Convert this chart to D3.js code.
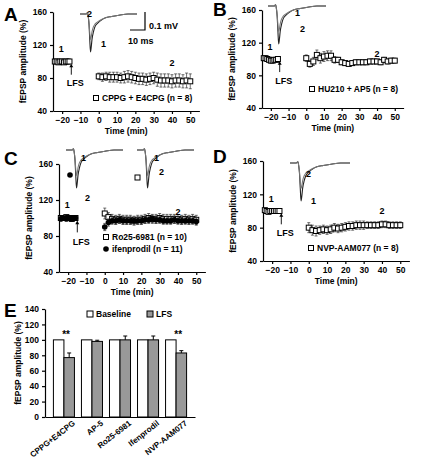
<!DOCTYPE html>
<html><head><meta charset="utf-8">
<script src="https://cdn.jsdelivr.net/npm/d3@7"></script>
<style>body{margin:0;background:#fff}text{font-family:"Liberation Sans",Arial,sans-serif;font-weight:bold}</style>
</head><body><svg id="c" width="425" height="461"></svg>
<script>
// ---- data ----
const baseT = [-24,-23,-22,-21,-20,-19,-18,-17,-16];
const postT = [0,2,4,6,8,10,12,14,16,18,20,22,24,26,28,30,32,34,36,38,40,42,44,46,48,50];
const aBase = [100,100,99,100,100,99,100,100,100];
const aPost = [82,81,82,81,81,81,80,81,82,81,80,79,79,78,79,80,78,77,77,77,76,77,77,76,77,76];
const aErr  = [4,5,5,6,6,6,6,7,7,7,7,7,7,7,7,7,8,8,8,8,8,8,8,8,9,9];
const bBase = [101,101,100,99,98,98,99,99,100];
const bPost = [101,94,97,105,101,103,104,104,99,99,96,95,94,95,96,96,96,96,97,97,97,96,99,97,98,98];
const bErr  = [4,4,5,6,6,6,6,6,4,3,3,3,3,3,3,3,3,3,3,3,3,3,3,3,3,3];
const cRoBase = [100,100,100,101,100,100,99,100,100];
const cRoPost = [105,101,99,98,99,98,98,98,97,98,98,99,100,99,99,100,99,99,99,99,99,98,99,98,99,98];
const cRoErr  = [6,5,5,5,5,5,5,5,5,5,5,5,5,5,5,5,5,5,5,5,5,5,5,5,5,5];
const cIfBase = [99,100,100,99,100,100,99,100,100];
const cIfPost = [90,95,97,97,98,97,97,97,97,97,97,98,98,99,98,98,97,97,97,98,97,97,97,97,97,96];
const cIfErr  = [4,4,4,4,4,4,4,4,4,4,4,4,4,4,4,4,4,4,4,4,4,4,4,4,4,4];
const dBase = [101,100,99,100,100,100,100,100,100];
const dPost = [80,77,76,77,78,77,78,80,79,80,81,82,82,83,83,83,83,83,83,83,84,84,83,83,83,83];
const dErr  = [6,6,6,5,5,5,5,5,5,5,5,5,5,5,5,5,4,4,4,4,4,4,4,4,4,4];
const xTicks = [-20,-10,0,10,20,30,40,50];
const yTicks = [40,80,120,160];
// inset fEPSP traces (ms, mV)
const trT  = [0,4,5,5.5,6,6.5,7,7.5,8,9,10,12,14,17,21,26,32,38];
const tr1  = [0,0,0.01,-0.02,-0.08,-0.2,-0.3,-0.26,-0.2,-0.14,-0.1,-0.07,-0.05,-0.03,-0.02,-0.01,0,0];
const tr2  = [0,0,0.01,-0.02,-0.07,-0.15,-0.2,-0.18,-0.14,-0.1,-0.08,-0.06,-0.045,-0.03,-0.02,-0.01,0,0];
// panel E
const groups = ["CPPG+E4CPG","AP-5","Ro25-6981","Ifenprodil","NVP-AAM077"];
const eBaseline = [100,100,100,100,100];
const eLFS = [77,98,100,100,83];
const eLFSErr = [6,1.5,5,5,3];
const eTicks = [0,20,40,60,80,100,120,140];

const svg = d3.select("#c");
function letter(x,y,t){svg.append("text").attr("x",x).attr("y",y).attr("font-size",19).text(t);}
function txt(x,y,t,fs,anchor){return svg.append("text").attr("x",x).attr("y",y).attr("font-size",fs||9).attr("text-anchor",anchor||"start").text(t);}

function trace(x0,y0,w,h){
  const tx=d3.scaleLinear().domain([0,38]).range([x0,x0+w]);
  const ty=d3.scaleLinear().domain([0,-0.3]).range([y0,y0+h]);
  const line=d3.line().x((d,i)=>tx(trT[i])).y(d=>ty(d)).curve(d3.curveMonotoneX);
  svg.append("path").attr("d",line(tr1)).attr("fill","none").attr("stroke","#222").attr("stroke-width",1.1);
  svg.append("path").attr("d",line(tr2)).attr("fill","none").attr("stroke","#777").attr("stroke-width",1.1);
}

function panel(o){
  const x=d3.scaleLinear().domain([-25,55]).range([o.x0,o.x0+80*o.k]);
  const y=d3.scaleLinear().domain([40,160]).range([o.yb,o.yt]);
  const g=svg.append("g");
  g.append("g").attr("transform",`translate(0,${o.yb})`).call(d3.axisBottom(x).tickValues(xTicks).tickSize(3).tickSizeOuter(0))
   .call(a=>a.selectAll("text").attr("font-size",8.5).attr("font-weight","bold"));
  g.append("g").attr("transform",`translate(${o.x0},0)`).call(d3.axisLeft(y).tickValues(yTicks).tickSize(3).tickSizeOuter(0))
   .call(a=>a.selectAll("text").attr("font-size",8.5).attr("font-weight","bold"));
  g.selectAll(".domain,.tick line").attr("stroke","#000").attr("stroke-width",1.2);
  txt((o.x0+x.range()[1])/2,o.yb+23,"Time (min)",8.5,"middle");
  svg.append("text").attr("transform",`translate(${o.x0-27},${(o.yt+o.yb)/2}) rotate(-90)`).attr("font-size",8.5).attr("text-anchor","middle").text("fEPSP amplitude (%)");
  o.series.forEach(s=>{
    const ptsB=baseT.map((t,i)=>[t,s.base[i]]), ptsP=postT.map((t,i)=>[t,s.post[i],s.err[i]]);
    ptsP.forEach(p=>{
      const cx=x(p[0]);
      g.append("line").attr("x1",cx).attr("x2",cx).attr("y1",y(p[1]+p[2])).attr("y2",y(p[1]-p[2])).attr("stroke","#333").attr("stroke-width",0.7);
      [p[1]+p[2],p[1]-p[2]].forEach(v=>g.append("line").attr("x1",cx-1.5).attr("x2",cx+1.5).attr("y1",y(v)).attr("y2",y(v)).attr("stroke","#333").attr("stroke-width",0.7));
    });
    ptsB.concat(ptsP).forEach(p=>{
      if(s.shape==="circle") g.append("circle").attr("cx",x(p[0])).attr("cy",y(p[1])).attr("r",2.8).attr("fill","#000");
      else g.append("rect").attr("x",x(p[0])-2.5).attr("y",y(p[1])-2.5).attr("width",5).attr("height",5).attr("fill",s.fill||"#fff").attr("stroke","#000").attr("stroke-width",1);
    });
  });
  txt(x(-20.5),y(o.l1||111),"1",9,"middle");
  txt(x(40),y(o.l2||103),"2",9,"middle");
  const ax=x(-15);
  g.append("line").attr("x1",ax).attr("x2",ax).attr("y1",y(84)).attr("y2",y(96)).attr("stroke","#000").attr("stroke-width",0.9);
  g.append("path").attr("d",`M${ax-2},${y(93)}L${ax},${y(97)}L${ax+2},${y(93)}Z`).attr("fill","#000");
  txt(ax+4,y(70),"LFS",9,"middle");
  o.legend.forEach((l,i)=>{
    const ly=o.ly+i*12;
    if(l.shape==="circle") svg.append("circle").attr("cx",o.lx).attr("cy",ly-3).attr("r",2.8).attr("fill","#000");
    else svg.append("rect").attr("x",o.lx-2.5).attr("y",ly-5.5).attr("width",5).attr("height",5).attr("fill",l.fill||"#fff").attr("stroke","#000");
    txt(o.lx+6,ly,l.t,8.5);
  });
}

// A
letter(4,21,"A");
panel({x0:53,k:1.83,yt:12,yb:111,series:[{base:aBase,post:aPost,err:aErr}],lx:96,ly:101,legend:[{t:"CPPG + E4CPG (n = 8)"}],l2:95});
trace(80,14,57,38);
txt(87,17,"2",9); txt(101,47,"1",9);
svg.append("path").attr("d","M145,12V30H130").attr("fill","none").attr("stroke","#000").attr("stroke-width",1.2);
txt(149,29,"0.1 mV",9); txt(128,44,"10 ms",9);

// B
letter(213,16,"B");
panel({x0:262,k:1.77,yt:10,yb:108,series:[{base:bBase,post:bPost,err:bErr}],lx:312,ly:92,legend:[{t:"HU210 + AP5 (n = 8)"}]});
trace(268,6,58,38);
txt(295,16,"1",9); txt(300,32,"2",9);

// C
letter(4,165,"C");
panel({x0:59,k:1.83,yt:164,yb:272,series:[{base:cRoBase,post:cRoPost,err:cRoErr,fill:"#fff"},{base:cIfBase,post:cIfPost,err:cIfErr,shape:"circle"}],lx:106,ly:240,legend:[{t:"Ro25-6981 (n = 10)",fill:"#fff"},{t:"ifenprodil  (n = 11)",shape:"circle"}]});
trace(66,150,57,38);
trace(137,150,57,38);
txt(81,161,"1",9); txt(85,201,"2",9);
txt(154,161,"1",9); txt(159,175,"2",9);
svg.append("circle").attr("cx",70).attr("cy",175).attr("r",2.8).attr("fill","#000");
svg.append("rect").attr("x",135).attr("y",175).attr("width",5).attr("height",5).attr("fill","#fff").attr("stroke","#000");

// D
letter(213,163,"D");
panel({x0:263,k:1.83,yt:161,yb:261,series:[{base:dBase,post:dPost,err:dErr}],lx:311,ly:251,legend:[{t:"NVP-AAM077 (n = 8)"}],l2:96});
trace(290,163,60,38);
txt(306,177,"2",9); txt(311,204,"1",9);

// E
letter(4,317,"E");
const ey=d3.scaleLinear().domain([0,140]).range([417,309]);
const ex=d3.scaleBand().domain(groups).range([45,195]).paddingInner(0.25).paddingOuter(0.3);
const ge=svg.append("g");
const bw=ex.bandwidth()/2;
groups.forEach((gname,i)=>{
  const x0=ex(gname);
  ge.append("rect").attr("x",x0).attr("y",ey(eBaseline[i])).attr("width",bw).attr("height",ey(0)-ey(eBaseline[i])).attr("fill","#fff").attr("stroke","#000");
  ge.append("rect").attr("x",x0+bw).attr("y",ey(eLFS[i])).attr("width",bw).attr("height",ey(0)-ey(eLFS[i])).attr("fill","#999").attr("stroke","#000");
  const cx=x0+bw*1.5;
  ge.append("line").attr("x1",cx).attr("x2",cx).attr("y1",ey(eLFS[i]+eLFSErr[i])).attr("y2",ey(eLFS[i])).attr("stroke","#000");
  ge.append("line").attr("x1",cx-2).attr("x2",cx+2).attr("y1",ey(eLFS[i]+eLFSErr[i])).attr("y2",ey(eLFS[i]+eLFSErr[i])).attr("stroke","#000");
});
ge.append("g").attr("transform","translate(45,0)").call(d3.axisLeft(ey).tickValues(eTicks).tickSize(3).tickSizeOuter(0))
  .call(a=>a.selectAll("text").attr("font-size",8.5).attr("font-weight","bold"));
ge.append("g").attr("transform","translate(0,417)").call(d3.axisBottom(ex).tickSize(0).tickSizeOuter(0))
  .call(a=>a.selectAll("text").attr("font-size",8).attr("font-weight","bold").attr("text-anchor","end").attr("y",0).attr("dy","0.35em").attr("transform","translate(10,5) rotate(-38)"));
ge.selectAll(".domain,.tick line").attr("stroke","#000").attr("stroke-width",1.2);
svg.append("text").attr("transform","translate(21,363) rotate(-90)").attr("font-size",8.5).attr("text-anchor","middle").text("fEPSP amplitude (%)");
txt(ex(groups[0])+bw*1.2,ey(103),"**",10,"middle");
txt(ex(groups[4])+bw*1.2,ey(103),"**",10,"middle");
svg.append("rect").attr("x",87).attr("y",311).attr("width",6).attr("height",6).attr("fill","#fff").attr("stroke","#000");
txt(96,317,"Baseline",8.5);
svg.append("rect").attr("x",147).attr("y",311).attr("width",6).attr("height",6).attr("fill","#999").attr("stroke","#000");
txt(156,317,"LFS",8.5);
</script></body></html>
